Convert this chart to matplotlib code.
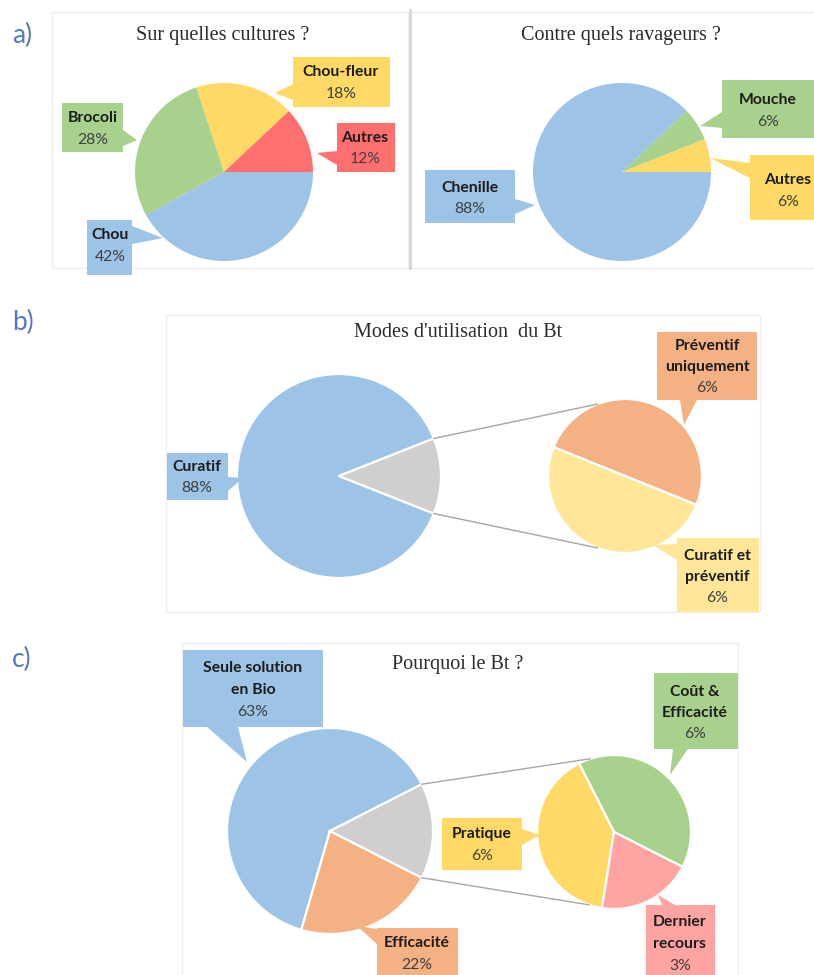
import numpy as np
import matplotlib
matplotlib.use('Agg')
import matplotlib.pyplot as plt
from matplotlib.patches import Rectangle, Polygon

W, H = 814, 975

# a) cultures / ravageurs
crop_labels = ['Chou', 'Brocoli', 'Chou-fleur', 'Autres']
crop_values = [42, 28, 18, 12]
pest_labels = ['Chenille', 'Mouche', 'Autres']
pest_values = [88, 6, 6]
# b) modes d'utilisation
mode_main_labels = ['Curatif']
mode_main_values = [88]
mode_sub_labels = ['Préventif\nuniquement', 'Curatif et\npréventif']
mode_sub_values = [6, 6]
# c) pourquoi le Bt
why_main_labels = ['Seule solution\nen Bio', 'Efficacité']
why_main_values = [63, 22]
why_sub_labels = ['Coût &\nEfficacité', 'Pratique', 'Dernier\nrecours']
why_sub_values = [6, 6, 3]

BLUE = '#9DC3E6'
GREEN = '#A9D18E'
YELLOW = '#FFD966'
RED = '#FF6F6F'
ORANGE = '#F4B183'
GREY = '#D0CECE'
LYELLOW = '#FFE699'
PINK = '#FFA3A3'

SANS = ['Lato', 'DejaVu Sans']
SERIF = ['Liberation Serif', 'DejaVu Serif']
LS = 21.5

fig = plt.figure(figsize=(W / 100, H / 100), dpi=100)
fig.patch.set_facecolor('white')

ov = fig.add_axes([0, 0, 1, 1], zorder=3)
ov.set_xlim(0, W)
ov.set_ylim(H, 0)
ov.axis('off')


def pie_axes(cx, cy, r):
    ax = fig.add_axes([(cx - r) / W, 1 - (cy + r) / H, 2 * r / W, 2 * r / H], zorder=2)
    return ax


def draw_pie(cx, cy, r, values, colors, start, ccw, edge=None):
    ax = pie_axes(cx, cy, r)
    kw = dict(edgecolor='white', linewidth=1.6) if edge else dict(edgecolor='none')
    ax.pie(values, colors=colors, startangle=start, counterclock=ccw, radius=1,
           wedgeprops=kw)
    ax.set_aspect('auto')
    ax.set_xlim(-1, 1)
    ax.set_ylim(-1, 1)
    ax.axis('off')


def rim(cx, cy, r, ang):
    a = np.deg2rad(ang)
    return cx + r * np.cos(a), cy - r * np.sin(a)


def frame(x0, y0, x1, y1):
    ov.add_patch(Rectangle((x0, y0), x1 - x0, y1 - y0, fc='none', ec='#efefef', lw=1, zorder=0))


def callout(box, tip, base, color, label, value, tx, ty):
    x0, y0, x1, y1 = box
    ov.add_patch(Rectangle((x0, y0), x1 - x0, y1 - y0, fc=color, ec='none', zorder=2))
    ov.add_patch(Polygon([base[0], tip, base[1]], closed=True, fc=color, ec='none', zorder=2))
    lines = label.split('\n')
    n = len(lines) + 1
    for i, s in enumerate(lines):
        ov.text(tx, ty + (i - (n - 1) / 2) * LS, s, ha='center', va='center',
                fontsize=11.3, fontweight='bold', family=SANS, color='#1c1c1c', zorder=3)
    ov.text(tx, ty + ((n - 1) / 2) * LS, f'{value}%', ha='center', va='center',
            fontsize=11.3, family=SANS, color='#3f3f3f', zorder=3)


def title(x, y, s):
    ov.text(x, y, s, ha='center', va='baseline', fontsize=14.5, family=SERIF, color='#2b2b2b')


def letter(x, y, s):
    ov.text(x, y, s, ha='left', va='baseline', fontsize=19, family=SANS,
            fontweight='normal', color='#5378bd')


# ---- frames
frame(52, 12, 408, 268)
frame(411, 12, 818, 268)
ov.plot([409.5, 409.5], [10, 268], color='#d6d6d6', lw=2)
frame(166, 315, 760, 612)
frame(182, 643, 738, 985)

# ---- panel letters and titles
letter(12, 43, 'a)')
letter(12, 330, 'b)')
letter(12, 667, 'c)')
title(223, 40, 'Sur quelles cultures ?')
title(621, 40, 'Contre quels ravageurs ?')
title(458, 337, "Modes d'utilisation  du Bt")
title(458, 669, 'Pourquoi le Bt ?')

# ---- a) left pie
draw_pie(224, 172, 89, crop_values, [BLUE, GREEN, YELLOW, RED], 0, False)
callout((87, 220, 132, 275), (163, 238), ((132, 226), (132, 244)), BLUE,
        crop_labels[0], crop_values[0], 110, 246)
callout((62, 103, 123, 152), (137, 140), ((123, 130), (123, 146)), GREEN,
        crop_labels[1], crop_values[1], 93, 129)
callout((293, 57, 390, 107), (275, 93), ((293, 84), (293, 100)), YELLOW,
        crop_labels[2], crop_values[2], 341, 83)
callout((337, 123, 395, 172), (317, 153), ((337, 151), (337, 165)), RED,
        crop_labels[3], crop_values[3], 365, 148.5)

# ---- a) right pie
draw_pie(622, 172, 89, pest_values, [BLUE, GREEN, YELLOW], 0, False)
callout((425, 170, 515, 223), (535, 205), ((515, 199), (515, 214)), BLUE,
        pest_labels[0], pest_values[0], 470, 198.5)
callout((722, 80, 820, 138), (700, 126), ((722, 112), (722, 128)), GREEN,
        pest_labels[1], pest_values[1], 768, 111)
callout((750, 155, 820, 220), (710, 158), ((750, 163), (750, 178)), YELLOW,
        pest_labels[2], pest_values[2], 788, 191)

# ---- b) pie of pie
rest = sum(mode_sub_values)
half = rest * 3.6 / 2
bcx, bcy, br = 339, 476, 102
scx, scy, sr = 625, 476, 77
draw_pie(bcx, bcy, br, mode_main_values + [rest], [BLUE, GREY], half, True, edge=True)
draw_pie(scx, scy, sr, mode_sub_values, [ORANGE, LYELLOW], -22, True, edge=True)
for a_main, a_sub in [(half, 111), (-half, 249)]:
    p, q = rim(bcx, bcy, br, a_main), rim(scx, scy, sr, a_sub)
    ov.plot([p[0], q[0]], [p[1], q[1]], color='#a6a6a6', lw=1, zorder=1)
callout((167, 453, 228, 500), (243, 478), ((228, 477), (228, 491)), BLUE,
        mode_main_labels[0], mode_main_values[0], 197, 477.5)
callout((657, 332, 757, 400), (684, 425), ((680, 400), (697, 400)), ORANGE,
        mode_sub_labels[0], mode_sub_values[0], 707, 367)
callout((677, 538, 759, 612), (653, 545), ((677, 544), (677, 560)), LYELLOW,
        mode_sub_labels[1], mode_sub_values[1], 717, 577)

# ---- c) pie of pie
rest = sum(why_sub_values)
half = rest * 3.6 / 2
ccx, ccy, cr = 330, 831, 103
dcx, dcy, dr = 614, 832, 77
draw_pie(ccx, ccy, cr, why_main_values + [rest], [BLUE, ORANGE, GREY], half, True, edge=True)
draw_pie(dcx, dcy, dr, why_sub_values, [GREEN, YELLOW, PINK], -27, True, edge=True)
for a_main, a_sub in [(half, 108), (-half, 251)]:
    p, q = rim(ccx, ccy, cr, a_main), rim(dcx, dcy, dr, a_sub)
    ov.plot([p[0], q[0]], [p[1], q[1]], color='#a6a6a6', lw=1, zorder=1)
callout((183, 650, 323, 727), (247, 762), ((207, 727), (238, 727)), BLUE,
        why_main_labels[0], why_main_values[0], 253, 690)
callout((377, 928, 458, 985), (357, 926), ((377, 929), (377, 944)), ORANGE,
        why_main_labels[1], why_main_values[1], 417, 954)
callout((654, 673, 738, 749), (670, 775), ((673, 749), (688, 749)), GREEN,
        why_sub_labels[0], why_sub_values[0], 695, 713)
callout((442, 818, 522, 870), (540, 835), ((522, 829), (522, 845)), YELLOW,
        why_sub_labels[1], why_sub_values[1], 482, 845)
callout((646, 905, 715, 985), (658, 895), ((662, 905), (675, 905)), PINK,
        why_sub_labels[2], why_sub_values[2], 680, 944)

fig.savefig('out.png', dpi=100)
